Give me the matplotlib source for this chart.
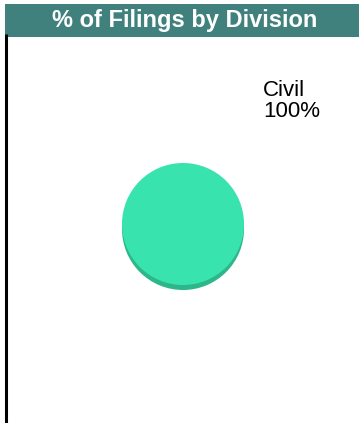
import matplotlib
matplotlib.use('Agg')
from matplotlib import pyplot as plt
from matplotlib.patches import Rectangle

title = '% of Filings by Division'
divisions = ['Civil']
shares = [100]
pct_labels = ['100%']

W, H = 359, 423

fig = plt.figure(figsize=(W / 100, H / 100), dpi=100)
ax = fig.add_axes([0, 0, 1, 1])
ax.set_xlim(0, W)
ax.set_ylim(H, 0)
ax.set_aspect('equal')
ax.axis('off')

# title bar
ax.add_patch(Rectangle((5, 4), 354, 33, facecolor='#41817D', edgecolor='none'))
ax.text(185, 20.5, title, color='white', fontsize=17, fontweight='bold',
        family='Liberation Sans', ha='center', va='center')

# left border line
ax.plot([5.5, 5.5], [34, H], color='black', lw=2.2, solid_capstyle='butt')

# pie with a darker "depth" copy underneath
ax.pie(shares, center=(183, 229), radius=61, colors=['#2DB68A'],
       wedgeprops=dict(linewidth=0))
ax.pie(shares, center=(183, 224), radius=61, colors=['#38E3AD'],
       wedgeprops=dict(linewidth=0))
ax.set_xlim(0, W)
ax.set_ylim(H, 0)

ax.text(263, 101, divisions[0] + '\n' + pct_labels[0], fontsize=16,
        family='Liberation Sans', ha='left', va='center', linespacing=1.0)

fig.savefig('out.png', dpi=100)
